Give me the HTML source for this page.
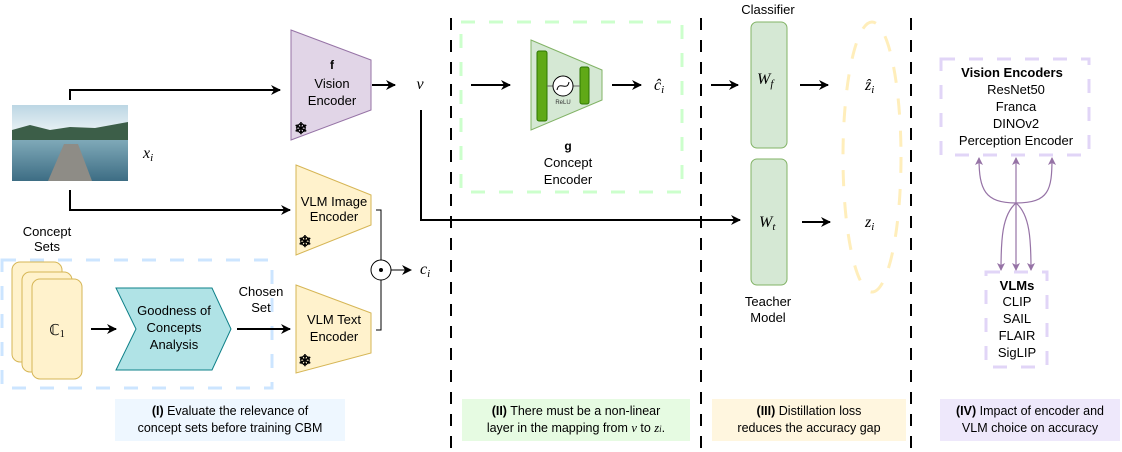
<!DOCTYPE html>
<html><head><meta charset="utf-8"><style>
html,body{margin:0;padding:0;background:#fff;}
svg{display:block;font-family:"Liberation Sans",sans-serif;}
.m{font-family:"Liberation Serif",serif;font-style:italic;}
</style></head><body>
<svg width="1122" height="452" viewBox="0 0 1122 452" xmlns="http://www.w3.org/2000/svg">
<defs>
<marker id="a" markerWidth="10" markerHeight="10" refX="9" refY="5" orient="auto" markerUnits="userSpaceOnUse"><path d="M0,0 L10,5 L0,10 L3,5 Z" fill="#000"/></marker>
<marker id="p" markerWidth="8" markerHeight="8" refX="7" refY="4" orient="auto" markerUnits="userSpaceOnUse"><path d="M0,0 L8,4 L0,8 L2,4 Z" fill="#9673a6"/></marker>
<linearGradient id="sky" x1="0" y1="0" x2="0" y2="1"><stop offset="0" stop-color="#bcd6e4"/><stop offset="1" stop-color="#eef4f6"/></linearGradient>
<linearGradient id="wat" x1="0" y1="0" x2="0" y2="1"><stop offset="0" stop-color="#7fa9b8"/><stop offset="1" stop-color="#3d6d84"/></linearGradient>
</defs>
<g stroke="#000" stroke-width="2" stroke-dasharray="12,10">
<line x1="451" y1="18" x2="451" y2="452"/><line x1="701" y1="18" x2="701" y2="452"/><line x1="911" y1="18" x2="911" y2="452"/>
</g>
<!-- image -->
<rect x="12" y="105" width="116" height="30" fill="url(#sky)"/>
<path d="M12,130 L30,125 L50,130 L70,127 L95,128 L128,122 L128,140 L12,140 Z" fill="#3c5e48"/>
<rect x="12" y="140" width="116" height="41" fill="url(#wat)"/>
<polygon points="48,181 92,181 78,144 64,144" fill="#8e8c86"/>
<text x="143" y="158" class="m" font-size="16">x<tspan font-size="11" dy="3">i</tspan></text>
<path d="M70,100 V90 H280" fill="none" stroke="#000" stroke-width="2" marker-end="url(#a)"/>
<path d="M70,190 V210 H290" fill="none" stroke="#000" stroke-width="2" marker-end="url(#a)"/>
<polygon points="291,30 371,60 371,110 291,140" fill="#e1d5e7" stroke="#9673a6"/>
<text x="332" y="69" font-size="12" font-weight="bold" text-anchor="middle">f</text>
<text x="332" y="88" font-size="13" text-anchor="middle">Vision</text>
<text x="332" y="105" font-size="13" text-anchor="middle">Encoder</text>
<text x="301" y="134" font-size="16" font-weight="bold" text-anchor="middle" fill="#000">❄</text>
<path d="M372,85 H395" stroke="#000" stroke-width="2" marker-end="url(#a)"/>
<text x="420" y="89" class="m" font-size="16" text-anchor="middle">v</text>
<path d="M421,110 V220 H740" fill="none" stroke="#000" stroke-width="2" marker-end="url(#a)"/>
<polygon points="296,165 371,195 371,225 296,255" fill="#fff2cc" stroke="#d6b656"/>
<text x="334" y="206" font-size="13" text-anchor="middle">VLM Image</text>
<text x="334" y="221" font-size="13" text-anchor="middle">Encoder</text>
<text x="305" y="247" font-size="16" font-weight="bold" text-anchor="middle">❄</text>
<polygon points="296,285 371,313 371,353 296,373" fill="#fff2cc" stroke="#d6b656"/>
<text x="334" y="324" font-size="13" text-anchor="middle">VLM Text</text>
<text x="334" y="341" font-size="13" text-anchor="middle">Encoder</text>
<text x="305" y="366" font-size="16" font-weight="bold" text-anchor="middle">❄</text>
<path d="M376,210 H381 V330 H376" fill="none" stroke="#000"/>
<circle cx="381" cy="270" r="10" fill="#fff" stroke="#000"/>
<circle cx="381" cy="270" r="2" fill="#000"/>
<path d="M391,270 H411" stroke="#000" marker-end="url(#a)"/>
<text x="420" y="274" class="m" font-size="16">c<tspan font-size="11" dy="3">i</tspan></text>
<text x="47" y="236" font-size="13" text-anchor="middle">Concept</text>
<text x="47" y="251" font-size="13" text-anchor="middle">Sets</text>
<rect x="2" y="260" width="270" height="128" fill="none" stroke="#cce5ff" stroke-width="3" stroke-dasharray="14,14"/>
<rect x="12" y="262" width="50" height="100" rx="8" fill="#fff2cc" stroke="#d6b656"/>
<rect x="22" y="272" width="50" height="100" rx="8" fill="#fff2cc" stroke="#d6b656"/>
<rect x="32" y="279" width="50" height="100" rx="8" fill="#fff2cc" stroke="#d6b656"/>
<text x="57" y="335" font-size="15" text-anchor="middle" font-family="Liberation Serif,serif">ℂ<tspan font-size="10" dy="2">1</tspan></text>
<path d="M91,329 H116" stroke="#000" stroke-width="2" marker-end="url(#a)"/>
<polygon points="116,288 212,288 231,329 212,370 116,370 136,329" fill="#b0e3e6" stroke="#0e8088"/>
<text x="174" y="315" font-size="13" text-anchor="middle">Goodness of</text>
<text x="174" y="332" font-size="13" text-anchor="middle">Concepts</text>
<text x="174" y="349" font-size="13" text-anchor="middle">Analysis</text>
<text x="261" y="296" font-size="13" text-anchor="middle">Chosen</text>
<text x="261" y="312" font-size="13" text-anchor="middle">Set</text>
<path d="M237,329 H290" stroke="#000" stroke-width="2" marker-end="url(#a)"/>
<rect x="461" y="22" width="221" height="170" fill="none" stroke="#ccffcc" stroke-width="3" stroke-dasharray="14,14"/>
<path d="M471,85 H510" stroke="#000" stroke-width="2" marker-end="url(#a)"/>
<polygon points="531,40 602,70 602,100 531,130" fill="#d5e8d4" stroke="#82b366"/>
<rect x="537" y="51" width="10" height="70" rx="2" fill="#60a917" stroke="#2d7600"/>
<rect x="580" y="67" width="9" height="37" rx="2" fill="#60a917" stroke="#2d7600"/>
<line x1="547" y1="86" x2="580" y2="86" stroke="#666"/>
<circle cx="563" cy="86" r="10" fill="#fff" stroke="#000"/>
<path d="M557,90 C559,80 567,92 569,82" fill="none" stroke="#000"/>
<text x="563" y="104" font-size="6" text-anchor="middle" fill="#333">ReLU</text>
<path d="M612,85 H641" stroke="#000" stroke-width="2" marker-end="url(#a)"/>
<text x="654" y="90" class="m" font-size="16">ĉ<tspan font-size="11" dy="3">i</tspan></text>
<text x="568" y="150" font-size="12" font-weight="bold" text-anchor="middle">g</text>
<text x="568" y="167" font-size="13" text-anchor="middle">Concept</text>
<text x="568" y="184" font-size="13" text-anchor="middle">Encoder</text>
<text x="768" y="14" font-size="13" text-anchor="middle">Classifier</text>
<rect x="751" y="22" width="36" height="126" rx="6" fill="#d5e8d4" stroke="#82b366"/>
<rect x="751" y="159" width="36" height="126" rx="6" fill="#d5e8d4" stroke="#82b366"/>
<text x="757" y="84" class="m" font-size="16">W<tspan font-size="11" dy="3">f</tspan></text>
<text x="759" y="227" class="m" font-size="16">W<tspan font-size="11" dy="3">t</tspan></text>
<text x="768" y="306" font-size="13" text-anchor="middle">Teacher</text>
<text x="768" y="322" font-size="13" text-anchor="middle">Model</text>
<path d="M711,85 H738" stroke="#000" stroke-width="2" marker-end="url(#a)"/>
<path d="M800,85 H828" stroke="#000" stroke-width="2" marker-end="url(#a)"/>
<path d="M802,222 H830" stroke="#000" stroke-width="2" marker-end="url(#a)"/>
<ellipse cx="872" cy="157" rx="29" ry="135" fill="none" stroke="#ffeebb" stroke-width="3" stroke-dasharray="16,16"/>
<text x="865" y="90" class="m" font-size="16">ẑ<tspan font-size="11" dy="3">i</tspan></text>
<text x="865" y="227" class="m" font-size="16">z<tspan font-size="11" dy="3">i</tspan></text>
<rect x="941" y="59" width="148" height="96" fill="none" stroke="#e1d5f7" stroke-width="3" stroke-dasharray="14,14"/>
<text x="1012" y="77" font-size="13" font-weight="bold" text-anchor="middle">Vision Encoders</text>
<text x="1016" y="94" font-size="13" text-anchor="middle">ResNet50</text>
<text x="1016" y="111" font-size="13" text-anchor="middle">Franca</text>
<text x="1016" y="128" font-size="13" text-anchor="middle">DINOv2</text>
<text x="1016" y="145" font-size="13" text-anchor="middle">Perception Encoder</text>
<rect x="986" y="272" width="61" height="95" fill="none" stroke="#e1d5f7" stroke-width="3" stroke-dasharray="14,14"/>
<text x="1017" y="290" font-size="13" font-weight="bold" text-anchor="middle">VLMs</text>
<text x="1017" y="306" font-size="13" text-anchor="middle">CLIP</text>
<text x="1017" y="323" font-size="13" text-anchor="middle">SAIL</text>
<text x="1017" y="340" font-size="13" text-anchor="middle">FLAIR</text>
<text x="1017" y="357" font-size="13" text-anchor="middle">SigLIP</text>
<g fill="none" stroke="#9673a6" stroke-width="1.2">
<path d="M1016,203 C985,203 979,190 979,158" marker-end="url(#p)"/>
<path d="M1016,203 V158" marker-end="url(#p)"/>
<path d="M1016,203 C1049,203 1052,190 1052,158" marker-end="url(#p)"/>
<path d="M1016,203 C1002,215 1001,240 1001,270" marker-end="url(#p)"/>
<path d="M1016,203 V270" marker-end="url(#p)"/>
<path d="M1016,203 C1030,215 1031,240 1031,270" marker-end="url(#p)"/>
</g>
<rect x="115" y="399" width="230" height="42" fill="#eef7ff"/>
<text x="230" y="415" font-size="12.5" text-anchor="middle"><tspan font-weight="bold">(I)</tspan> Evaluate the relevance of</text>
<text x="230" y="432" font-size="12.5" text-anchor="middle">concept sets before training CBM</text>
<rect x="462" y="399" width="228" height="42" fill="#e6fbe2"/>
<text x="576" y="415" font-size="12.5" text-anchor="middle"><tspan font-weight="bold">(II)</tspan> There must be a non-linear</text>
<text x="576" y="432" font-size="12.5" text-anchor="middle">layer in the mapping from <tspan class="m">v</tspan> to <tspan class="m">z</tspan><tspan class="m" font-size="9">i</tspan>.</text>
<rect x="712" y="399" width="194" height="42" fill="#fff6df"/>
<text x="809" y="415" font-size="12.5" text-anchor="middle"><tspan font-weight="bold">(III)</tspan> Distillation loss</text>
<text x="809" y="432" font-size="12.5" text-anchor="middle">reduces the accuracy gap</text>
<rect x="940" y="399" width="180" height="42" fill="#eee8fb"/>
<text x="1030" y="415" font-size="12.5" text-anchor="middle"><tspan font-weight="bold">(IV)</tspan> Impact of encoder and</text>
<text x="1030" y="432" font-size="12.5" text-anchor="middle">VLM choice on accuracy</text>
</svg>
</body></html>
